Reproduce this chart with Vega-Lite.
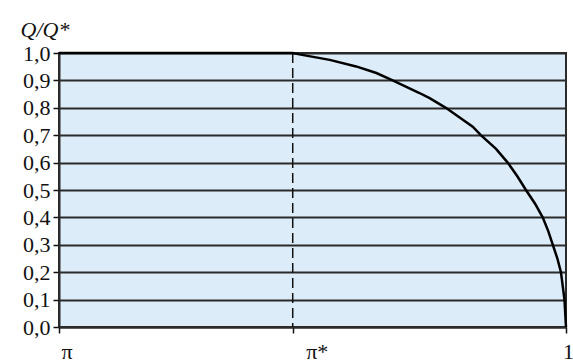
{
  "$schema": "https://vega.github.io/schema/vega-lite/v6.json",
  "width": 507,
  "height": 274,
  "autosize": "none",
  "padding": {"left": 59, "top": 53, "right": 7, "bottom": 35},
  "background": "white",
  "config": {
    "view": {"fill": "#dcedf9", "stroke": "#2b2b2b", "strokeWidth": 2},
    "font": "'Liberation Serif', 'DejaVu Serif', serif",
    "axis": {"labelFont": "'Liberation Serif', 'DejaVu Serif', serif", "titleFont": "'Liberation Serif', 'DejaVu Serif', serif"}
  },
  "resolve": {"axis": {"x": "independent", "y": "independent"}},
  "layer": [
    {
      "data": {"values": [{"p": 0.461}]},
      "mark": {"type": "rule", "strokeDash": [10, 5], "strokeWidth": 1.5, "color": "#111111"},
      "encoding": {
        "x": {"field": "p", "type": "quantitative", "scale": {"domain": [0, 1], "nice": false}, "axis": null}
      }
    },
    {
      "data": {
        "values": [
          {"p": 0.0, "q": 1.0},
          {"p": 0.461, "q": 1.0},
          {"p": 0.474, "q": 0.995},
          {"p": 0.534, "q": 0.975},
          {"p": 0.586, "q": 0.951},
          {"p": 0.626, "q": 0.927},
          {"p": 0.658, "q": 0.9},
          {"p": 0.711, "q": 0.854},
          {"p": 0.731, "q": 0.835},
          {"p": 0.763, "q": 0.8},
          {"p": 0.816, "q": 0.731},
          {"p": 0.832, "q": 0.7},
          {"p": 0.862, "q": 0.65},
          {"p": 0.885, "q": 0.6},
          {"p": 0.904, "q": 0.55},
          {"p": 0.921, "q": 0.5},
          {"p": 0.939, "q": 0.45},
          {"p": 0.954, "q": 0.4},
          {"p": 0.965, "q": 0.35},
          {"p": 0.974, "q": 0.3},
          {"p": 0.983, "q": 0.25},
          {"p": 0.99, "q": 0.2},
          {"p": 0.997, "q": 0.1},
          {"p": 1.0, "q": 0.0}
        ]
      },
      "mark": {"type": "line", "color": "#000000", "strokeWidth": 2.5},
      "encoding": {
        "x": {
          "field": "p",
          "type": "quantitative",
          "scale": {"domain": [0, 1], "nice": false},
          "axis": {
            "title": null,
            "values": [0, 0.461, 1],
            "labelExpr": "datum.value == 0 ? 'π' : (datum.value == 1 ? '1' : 'π*')",
            "labelFont": "'Liberation Serif', 'DejaVu Serif', serif",
            "labelFontSize": 22,
            "labelColor": "#111111",
            "labelBaseline": "alphabetic",
            "labelPadding": 25,
            "labelAlign": {"condition": {"test": "datum.value == 1", "value": "center"}, "value": "left"},
            "labelOffset": {"condition": {"test": "datum.value > 0.4 && datum.value < 0.5", "value": 13}, "value": 2},
            "labelFlush": false,
            "labelOverlap": false,
            "tickSize": 6,
            "tickColor": "#111111",
            "tickWidth": 1.5,
            "domainColor": "#2b2b2b",
            "domainWidth": 2,
            "grid": false
          }
        },
        "y": {
          "field": "q",
          "type": "quantitative",
          "scale": {"domain": [0, 1], "nice": false},
          "axis": {
            "title": "Q/Q*",
            "titleFont": "'Liberation Serif', 'DejaVu Serif', serif",
            "titleFontStyle": "italic",
            "titleFontWeight": "normal",
            "titleFontSize": 22,
            "titleColor": "#111111",
            "titleAngle": 0,
            "titleAlign": "left",
            "titleBaseline": "alphabetic",
            "titleX": -39,
            "titleY": -17,
            "values": [0, 0.1, 0.2, 0.3, 0.4, 0.5, 0.6, 0.7, 0.8, 0.9, 1.0],
            "labelExpr": "replace(format(datum.value, '.1f'), '.', ',')",
            "labelFont": "'Liberation Serif', 'DejaVu Serif', serif",
            "labelFontSize": 22,
            "labelColor": "#111111",
            "labelPadding": 3,
            "labelFlush": false,
            "labelOverlap": false,
            "tickSize": 6,
            "tickColor": "#111111",
            "tickWidth": 1.5,
            "domainColor": "#2b2b2b",
            "domainWidth": 2,
            "grid": true,
            "gridColor": "#2b2b2b",
            "gridWidth": 1.8,
            "gridOpacity": 1
          }
        }
      }
    },
    {
      "data": {"values": [{"p": 0, "q": 0, "t": "нач"}]},
      "mark": {"type": "text", "font": "'Liberation Serif', 'DejaVu Serif', serif", "fontSize": 13, "align": "left", "baseline": "top", "dx": 15, "dy": 33, "color": "#111111"},
      "encoding": {
        "x": {"field": "p", "type": "quantitative", "axis": null},
        "y": {"field": "q", "type": "quantitative", "axis": null},
        "text": {"field": "t"}
      }
    }
  ]
}
